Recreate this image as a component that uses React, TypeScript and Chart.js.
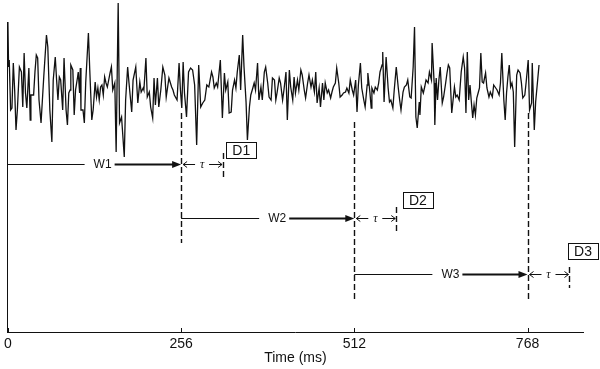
import React, { useEffect, useRef } from 'react';
import { Chart, registerables } from 'chart.js';

Chart.register(...registerables);

// ---- Signal (time in ms, amplitude in arbitrary units) ----
const signalTimeMs = [
  0, 1, 2, 4, 6, 8, 10, 12, 14, 17, 20, 22, 24, 26, 28, 31, 33, 34, 38, 40,
  42, 44, 46, 49, 53, 57, 59, 62, 65, 67, 70, 72, 74, 76, 78, 81, 83, 86, 88, 90,
  92, 93, 96, 98, 100, 103, 104, 106, 107, 108, 111, 113, 115, 119, 121, 124, 126, 129, 131, 133,
  135, 137, 139, 141, 143, 145, 147, 149, 151,
  153, 155, 158, 160, 163, 165, 168, 169, 172, 174, 177, 179, 183, 185, 189, 192, 195, 197, 200, 201,
  204, 206, 209, 211, 214, 216, 218, 221, 223, 226, 229, 232, 234, 238, 242, 244, 246, 250, 253, 255,
  257, 259, 261, 264, 267, 270, 273, 276, 279, 282, 285, 288, 291, 294, 297, 301, 303, 305, 308, 310,
  314,
  317, 320, 322, 325, 327, 330, 332, 335, 337, 339, 342, 344, 347, 349, 352, 354, 357, 359, 362, 364,
  366, 369, 371, 374, 376, 379, 381, 384, 386, 389, 391, 394, 396, 398, 401, 403, 406, 408, 411, 413,
  416, 418, 421, 423, 425, 428, 430, 433, 435, 438, 440, 443, 445, 448, 450, 453, 455, 457, 460, 462,
  465, 467,
  469, 472, 474, 477, 479, 481, 484, 486, 489, 491, 494, 496, 499, 501, 504, 506, 509, 511, 514, 516,
  518, 521, 523, 526, 528, 531, 532, 535, 537, 538, 541, 543, 546, 548, 550, 553, 554, 556, 559, 562,
  564, 566, 569, 571, 574, 577, 579, 581, 584, 586, 589, 591, 594, 596, 599, 601, 603, 605, 608, 609,
  611, 614, 616, 618, 621, 623, 626, 627, 630, 631,
  633, 635, 637, 639, 642, 644, 647, 649, 651, 653, 656, 658, 660, 662, 664, 667, 670, 673, 675, 677,
  679, 681, 683, 685, 687, 689, 691, 693, 695, 697, 699, 701, 703, 706, 708, 711, 713, 716, 718, 721,
  723, 726, 728, 730, 733, 735, 737, 739, 741, 743, 745, 747, 749, 752, 754, 757, 759, 761, 764, 766,
  769, 771, 774, 775, 778, 780, 783, 785,
];

const signalAmplitude = [
  68, 23, 30, -20, -18, 27, 0, -40, -20, 23, 18, -17, 37, -3, -18, 22, -30, -5, -5, 18,
  35, 32, -10, -33, 13, 55, 43, -20, -52, 10, 33, 10, -10, 13, 10, -20, 32, -20, -35, -3,
  0, 25, 20, -25, 0, 13, 18, -3, 22, -20, -20, -33, 7, 57, 20, -30, -20, 8, -7, 2,
  -10, 3, 5, -5, 13, 7, 3, 10, 17,
  23, 0, 7, -62, 87, -33, -27, -37, -67, -10, 23, 7, -22, 10, 23, -13, 8, -2, 2, 0,
  32, -7, -2, -17, -28, 12, -15, 12, -17, 0, 23, 15, -7, 12, 3, 0, -5, -10, 27, 0,
  -18, 28, -3, -27, 18, 22, 20, 5, -55, 25, -17, -13, -10, 5, 3, 18, 13, 2, 7, 3,
  30,
  -28, 17, 0, 8, -23, -22, 0, 10, 2, 18, 35, 0, 55, 23, -12, -50, -17, -5, 2, 7,
  0, 27, -10, 3, -10, 18, 23, 7, -7, -10, 12, 10, -10, -2, 12, 7, -10, 0, 18, -30,
  20, 3, -10, 13, -3, 10, 0, 20, 15, 0, -8, 7, 15, 3, 10, -2, 18, -13, 2, -17,
  7, -10,
  7, -3, 0, -8, -2, 3, 7, 22, 7, -7, -5, -3, -2, 2, -3, 10, 0, -5, 10, -22,
  5, 27, 2, -10, -17, 5, 17, -2, -18, 2, -3, 3, 0, 7, 18, 25, 38, -12, 33, 2,
  -12, -10, -18, 0, 23, 2, -10, -20, -2, 3, 5, 10, -7, -8, 23, 63, -27, -38, -12, -25,
  3, -3, 3, 10, 7, 18, 10, 47, 7, -35,
  12, -10, 10, 23, -13, -7, 7, 17, 25, 22, -23, -10, 3, -7, -5, -10, 18, 33, 22, -23,
  38, -10, 5, -12, -28, -15, -25, -8, -3, 2, 37, 8, 7, 17, 2, -7, -2, -7, 5, 2,
  0, -5, 7, 37, -10, -30, -3, 13, 25, 3, 7, -2, -57, 15, 20, 17, 7, -8, -5, 8,
  30, -20, -13, 27, -40, -12, 10, 25,
];

// ---- Axis ----
const xTicks = [0, 256, 512, 768];
const xMax = 850;
const yMin = -242;
const yMax = 68;

// ---- Windows, delays and detections ----
const windowLabels = ['W1', 'W2', 'W3'];
const windowStart = [0, 256, 512];
const windowEnd = [256, 512, 768];
const windowLevel = [-74, -128, -184];
const windowLabelAt = [140, 398, 654];
const markerTop = [-23, -32, -23];
const markerBottom = [-153, -210, -210];
const tauMs = 62;
const tauTop = [-63, -117, -177];
const tauBottom = [-88, -142, -198];
const detectLabels = ['D1', 'D2', 'D3'];
const detectAt = [345, 606, 850];
const detectLevel = [-60, -110, -161];

const FONT = '"Liberation Sans", Arial, sans-serif';
const INK = '#111';

const annotationPlugin = {
  id: 'annotations',
  afterDatasetsDraw(chart: any) {
    const { ctx } = chart;
    const x = chart.scales.x;
    const y = chart.scales.y;
    const px = (v: number) => x.getPixelForValue(v);
    const py = (v: number) => y.getPixelForValue(v);
    const line = (x0: number, y0: number, x1: number, y1: number) => {
      ctx.beginPath();
      ctx.moveTo(x0, y0);
      ctx.lineTo(x1, y1);
      ctx.stroke();
    };
    ctx.save();
    ctx.strokeStyle = INK;
    ctx.fillStyle = INK;

    // inward tick marks on x axis
    ctx.lineWidth = 1;
    xTicks.forEach((t) => {
      const xx = Math.round(px(t)) + 0.5;
      line(xx, y.bottom, xx, y.bottom - 4);
    });

    // long dashed markers at window ends
    ctx.setLineDash([6, 3]);
    ctx.lineWidth = 1.4;
    windowEnd.forEach((t, i) => {
      const xx = Math.round(px(t)) + 0.5;
      line(xx, py(markerTop[i]), xx, py(markerBottom[i]));
    });
    // short dashed markers at tau ends
    windowEnd.forEach((t, i) => {
      const xx = Math.round(px(t + tauMs)) + 0.5;
      line(xx, py(tauTop[i]), xx, py(tauBottom[i]));
    });
    ctx.setLineDash([]);

    ctx.textAlign = 'center';
    ctx.textBaseline = 'middle';

    // window arrows
    windowLabels.forEach((lab, i) => {
      const x0 = px(windowStart[i]);
      const x1 = px(windowEnd[i]);
      const yy = Math.round(py(windowLevel[i])) + 0.5;
      const lx = px(windowLabelAt[i]);
      ctx.font = `12px ${FONT}`;
      const w = ctx.measureText(lab).width;
      ctx.lineWidth = 1;
      line(x0, yy, lx - w / 2 - 9, yy);
      ctx.lineWidth = 1.8;
      line(lx + w / 2 + 3, yy, x1 - 7, yy);
      ctx.beginPath();
      ctx.moveTo(x1, yy);
      ctx.lineTo(x1 - 9, yy - 3.5);
      ctx.lineTo(x1 - 9, yy + 3.5);
      ctx.closePath();
      ctx.fill();
      ctx.fillText(lab, lx, yy + 0.5);

      // tau arrow
      const t0 = x1 + 1;
      const t1 = px(windowEnd[i] + tauMs) - 1;
      const mid = (t0 + t1) / 2;
      ctx.lineWidth = 1;
      line(t0 + 1, yy, mid - 7, yy);
      line(mid + 7, yy, t1, yy);
      ctx.beginPath();
      ctx.moveTo(t0 + 5, yy - 3);
      ctx.lineTo(t0 + 1, yy);
      ctx.lineTo(t0 + 5, yy + 3);
      ctx.stroke();
      ctx.beginPath();
      ctx.moveTo(t1 - 4, yy - 3);
      ctx.lineTo(t1, yy);
      ctx.lineTo(t1 - 4, yy + 3);
      ctx.stroke();
      ctx.font = `italic 12px "Liberation Serif", "Times New Roman", serif`;
      ctx.fillText('τ', mid, yy);
    });

    // detection boxes
    detectLabels.forEach((lab, i) => {
      const cx = px(detectAt[i]);
      const cy = py(detectLevel[i]);
      ctx.font = `14px ${FONT}`;
      const w = ctx.measureText(lab).width + 12;
      const h = 16;
      ctx.lineWidth = 1;
      ctx.strokeRect(Math.round(cx - w / 2) + 0.5, Math.round(cy - h / 2) + 0.5, Math.round(w), h);
      ctx.fillText(lab, cx, cy + 1);
    });

    ctx.restore();
  },
};

export default function App() {
  const canvasRef = useRef<HTMLCanvasElement | null>(null);

  useEffect(() => {
    if (!canvasRef.current) return;
    const points = signalTimeMs.map((t, i) => ({ x: t, y: signalAmplitude[i] }));
    const chart = new Chart(canvasRef.current, {
      type: 'line',
      data: {
        datasets: [
          {
            data: points,
            borderColor: INK,
            borderWidth: 1.3,
            pointRadius: 0,
            tension: 0,
            clip: false as any,
          },
        ],
      },
      options: {
        responsive: false,
        animation: false,
        events: [],
        layout: { padding: { left: 6, right: 17, top: 22, bottom: 0 } },
        plugins: { legend: { display: false }, tooltip: { enabled: false } },
        scales: {
          x: {
            type: 'linear',
            min: 0,
            max: xMax,
            afterBuildTicks: (s: any) => {
              s.ticks = xTicks.map((v) => ({ value: v }));
            },
            afterFit: (s: any) => {
              s.height = 37;
            },
            grid: { display: false, drawTicks: false },
            border: { display: true, color: INK, width: 1 },
            ticks: {
              color: INK,
              font: { family: FONT, size: 14 },
              padding: 4,
              maxRotation: 0,
              autoSkip: false,
            },
            title: {
              display: true,
              text: 'Time (ms)',
              color: INK,
              font: { family: FONT, size: 14 },
              padding: { top: 0, bottom: 2 },
            },
          },
          y: {
            type: 'linear',
            min: yMin,
            max: yMax,
            afterFit: (s: any) => {
              s.width = 0;
            },
            grid: { display: false, drawTicks: false },
            border: { display: true, color: INK, width: 1 },
            ticks: { display: false },
          },
        },
      },
      plugins: [annotationPlugin],
    });
    return () => chart.destroy();
  }, []);

  return (
    <div style={{ position: 'absolute', left: 0, top: 0, width: 600, height: 369, background: '#fff' }}>
      <canvas ref={canvasRef} width={600} height={369} style={{ display: 'block' }} />
    </div>
  );
}
